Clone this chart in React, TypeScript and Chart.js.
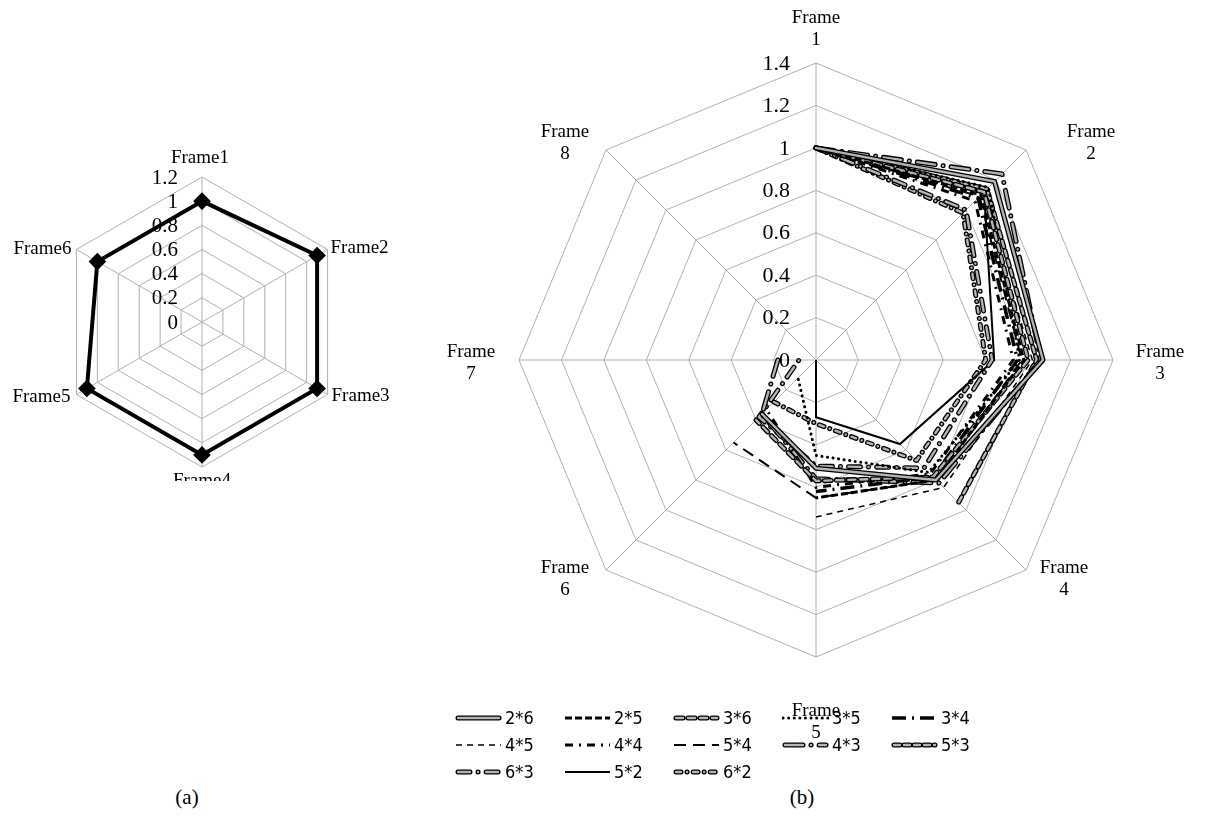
import React, { useEffect, useRef } from 'react';
import { Chart, registerables } from 'chart.js';

Chart.register(...registerables);

// ---------- Chart (a) data ----------
const framesA = ['Frame1', 'Frame2', 'Frame3', 'Frame4', 'Frame5', 'Frame6'];
const valuesA = [1.0, 1.1, 1.1, 1.1, 1.1, 1.0];

// ---------- Chart (b) data ----------
const framesB = ['Frame 1', 'Frame 2', 'Frame 3', 'Frame 4', 'Frame 5', 'Frame 6', 'Frame 7', 'Frame 8'];
const seriesNames = ['2*6', '2*5', '3*6', '3*5', '3*4', '4*5', '4*4', '5*4', '4*3', '5*3', '6*3', '5*2', '6*2'];

const s2x6 = [1, 1.19, 1.07, 0.8, 0.51, 0.36, null, null];
const s2x5 = [1, 1.1, 0.98, 0.8, 0.65, null, null, null];
const s3x6 = [1, 1.12, 1.0, 0.78, 0.57, 0.4, null, null];
const s3x5 = [1, 1.15, 0.96, 0.75, 0.45, 0.12, null, null];
const s3x4 = [1, 1.08, 0.95, 0.78, 0.62, null, null, null];
const s4x5 = [1, 1.11, 1.02, 0.85, 0.74, null, null, null];
const s4x4 = [1, 1.06, 0.93, 0.76, 0.6, 0.33, null, null];
const s5x4 = [1, 1.09, 0.97, 0.8, 0.65, 0.55, null, null];
const s4x3 = [1, 1.24, 1.06, 0.82, 0.56, 0.36, 0.18, null];
const s5x3 = [1, 1.14, 1.04, 0.95, null, null, null, null];
const s6x3 = [1, 1.0, 0.83, 0.72, 0.5, 0.38, 0.08, null];
const s5x2 = [1, 1.12, 0.84, 0.56, 0.27, 0, 0, null];
const s6x2 = [1, 0.98, 0.8, 0.67, 0.3, 0.28, null, null];

const seriesValues = [s2x6, s2x5, s3x6, s3x5, s3x4, s4x5, s4x4, s5x4, s4x3, s5x3, s6x3, s5x2, s6x2];

// ---------- styles (not data) ----------
type Sty = { double?: boolean; w?: number; dash: number[]; cap?: 'round' | 'butt' };
const styles: Sty[] = [
  { double: true, dash: [] },
  { w: 3, dash: [7, 3] },
  { double: true, dash: [7, 5] },
  { w: 3, dash: [0.1, 5.5], cap: 'round' },
  { w: 3.5, dash: [14, 6, 2, 6] },
  { w: 1.5, dash: [6, 5] },
  { w: 3, dash: [8, 6, 2, 6] },
  { w: 2, dash: [12, 7] },
  { double: true, dash: [18, 8, 0.1, 8] },
  { double: true, dash: [6, 4] },
  { double: true, dash: [12, 8, 0.1, 8] },
  { w: 2, dash: [] },
  { double: true, dash: [5, 6, 0.1, 6] },
];
const OUTER_W = 5;
const INNER_W = 2.4;
const INNER_COLOR = '#b4b4b4';
const GRID = '#b0b0b0';
const SERIF = '"Liberation Serif", "Times New Roman", serif';

type LabelCfg = {
  offsets: [number, number][];
  font: string;
  lineH: number;
  split: boolean;
  tickFont: string;
  tickDx: number;
};

function labelPlugin(cfg: LabelCfg) {
  return {
    id: 'customLabels',
    beforeDatasetsDraw(chart: any) {
      const s = chart.scales.r;
      const ctx = chart.ctx;
      ctx.save();
      ctx.font = cfg.tickFont;
      ctx.fillStyle = '#000';
      ctx.textAlign = 'right';
      ctx.textBaseline = 'middle';
      s.ticks.forEach((t: any) => {
        const d = s.getDistanceFromCenterForValue(t.value);
        const txt = String(Math.round(t.value * 10) / 10);
        ctx.fillText(txt, s.xCenter - cfg.tickDx, s.yCenter - d + 1);
      });
      ctx.restore();
    },
    afterDraw(chart: any) {
      const s = chart.scales.r;
      const ctx = chart.ctx;
      const labels: string[] = chart.data.labels;
      ctx.save();
      ctx.font = cfg.font;
      ctx.fillStyle = '#000';
      ctx.textAlign = 'center';
      ctx.textBaseline = 'middle';
      labels.forEach((lab, i) => {
        const p = s.getPointPosition(i, s.drawingArea);
        const [dx, dy] = cfg.offsets[i];
        const lines = cfg.split ? lab.split(' ') : [lab];
        const cx = p.x + dx;
        const cy = p.y + dy;
        const top = cy - ((lines.length - 1) * cfg.lineH) / 2;
        lines.forEach((ln, k) => ctx.fillText(ln, cx, top + k * cfg.lineH));
      });
      ctx.restore();
    },
  };
}

function ChartA() {
  const ref = useRef<HTMLCanvasElement>(null);
  useEffect(() => {
    const chart = new Chart(ref.current!, {
      type: 'radar',
      data: {
        labels: framesA,
        datasets: [
          {
            data: valuesA,
            borderColor: '#000',
            borderWidth: 4,
            pointStyle: 'rectRot',
            pointRadius: 6,
            pointBackgroundColor: '#000',
            pointBorderColor: '#000',
            fill: false,
            tension: 0,
          },
        ],
      },
      options: {
        responsive: false,
        animation: false,
        layout: { padding: { left: 57, right: 53, top: 47, bottom: 14 } },
        plugins: { legend: { display: false }, tooltip: { enabled: false } },
        scales: {
          r: {
            min: 0,
            max: 1.2,
            ticks: { stepSize: 0.2, display: false },
            pointLabels: { display: false },
            grid: { color: GRID, lineWidth: 1 },
            angleLines: { color: GRID, lineWidth: 1 },
          },
        },
      },
      plugins: [
        labelPlugin({
          offsets: [[-2, -19], [32, -1], [33, 2], [0, 14], [-35, 3], [-34, 0]],
          font: `19px ${SERIF}`,
          lineH: 20,
          split: false,
          tickFont: `21px ${SERIF}`,
          tickDx: 24,
        }),
      ],
    } as any);
    return () => chart.destroy();
  }, []);
  return (
    <canvas
      ref={ref}
      width={400}
      height={351}
      style={{ position: 'absolute', left: 0, top: 130, width: 400, height: 351 }}
    />
  );
}

function ChartB() {
  const ref = useRef<HTMLCanvasElement>(null);
  useEffect(() => {
    const datasets: any[] = [];
    seriesValues.forEach((vals, i) => {
      const st = styles[i];
      if (st.double) {
        datasets.push({
          label: seriesNames[i] + ' inner',
          data: vals,
          borderColor: INNER_COLOR,
          borderWidth: INNER_W,
          borderDash: st.dash,
          borderCapStyle: 'round',
          borderJoinStyle: 'round',
          pointRadius: 0,
          fill: false,
          spanGaps: false,
        });
        datasets.push({
          label: seriesNames[i],
          data: vals,
          borderColor: '#000',
          borderWidth: OUTER_W,
          borderDash: st.dash,
          borderCapStyle: 'round',
          borderJoinStyle: 'round',
          pointRadius: 0,
          fill: false,
          spanGaps: false,
        });
      } else {
        datasets.push({
          label: seriesNames[i],
          data: vals,
          borderColor: '#000',
          borderWidth: st.w,
          borderDash: st.dash,
          borderCapStyle: st.cap || 'butt',
          borderJoinStyle: 'miter',
          pointRadius: 0,
          fill: false,
          spanGaps: false,
        });
      }
    });
    const chart = new Chart(ref.current!, {
      type: 'radar',
      data: { labels: framesB, datasets },
      options: {
        responsive: false,
        animation: false,
        layout: { padding: { left: 79, right: 87, top: 63, bottom: 93 } },
        plugins: { legend: { display: false }, tooltip: { enabled: false } },
        elements: { line: { tension: 0 } },
        scales: {
          r: {
            min: 0,
            max: 1.4,
            ticks: { stepSize: 0.2, display: false },
            pointLabels: { display: false },
            grid: { color: GRID, lineWidth: 1 },
            angleLines: { color: GRID, lineWidth: 1 },
          },
        },
      },
      plugins: [
        labelPlugin({
          offsets: [[0, -34], [65, -7], [47, 3], [38, 9], [0, 65], [-41, 9], [-48, 3], [-41, -7]],
          font: `19px ${SERIF}`,
          lineH: 22,
          split: true,
          tickFont: `22px ${SERIF}`,
          tickDx: 26,
        }),
      ],
    } as any);
    return () => chart.destroy();
  }, []);
  return (
    <canvas
      ref={ref}
      width={760}
      height={750}
      style={{ position: 'absolute', left: 440, top: 0, width: 760, height: 750 }}
    />
  );
}

function LegendSample({ st }: { st: Sty }) {
  const dash = st.dash.length ? st.dash.join(' ') : undefined;
  return (
    <svg width={47} height={12} style={{ display: 'block' }}>
      {st.double ? (
        <>
          <line x1={3} y1={6} x2={44} y2={6} stroke="#000" strokeWidth={OUTER_W} strokeDasharray={dash} strokeLinecap="round" />
          <line x1={3} y1={6} x2={44} y2={6} stroke={INNER_COLOR} strokeWidth={INNER_W} strokeDasharray={dash} strokeLinecap="round" />
        </>
      ) : (
        <line
          x1={1}
          y1={6}
          x2={46}
          y2={6}
          stroke="#000"
          strokeWidth={st.w}
          strokeDasharray={dash}
          strokeLinecap={st.cap || 'butt'}
        />
      )}
    </svg>
  );
}

function LegendB() {
  return (
    <>
      {seriesNames.map((name, i) => {
        const col = i % 5;
        const row = Math.floor(i / 5);
        return (
          <div
            key={name}
            style={{
              position: 'absolute',
              left: 455 + col * 109,
              top: 707 + row * 27,
              height: 22,
              display: 'flex',
              alignItems: 'center',
              gap: 3,
            }}
          >
            <LegendSample st={styles[i]} />
            <span
              style={{
                fontFamily: '"DejaVu Sans Condensed", "DejaVu Sans", sans-serif',
                fontStretch: 'condensed',
                fontSize: 18,
                color: '#000',
                lineHeight: '22px',
              }}
            >
              {name}
            </span>
          </div>
        );
      })}
    </>
  );
}

export default function App() {
  const cap: React.CSSProperties = {
    position: 'absolute',
    top: 785,
    fontFamily: SERIF,
    fontSize: 21,
    lineHeight: '24px',
    width: 60,
    textAlign: 'center',
    color: '#000',
  };
  return (
    <div style={{ position: 'fixed', left: 0, top: 0, width: 1220, height: 828, background: '#fff', overflow: 'hidden' }}>
      <ChartA />
      <ChartB />
      <LegendB />
      <div style={{ ...cap, left: 157 }}>(a)</div>
      <div style={{ ...cap, left: 772 }}>(b)</div>
    </div>
  );
}
